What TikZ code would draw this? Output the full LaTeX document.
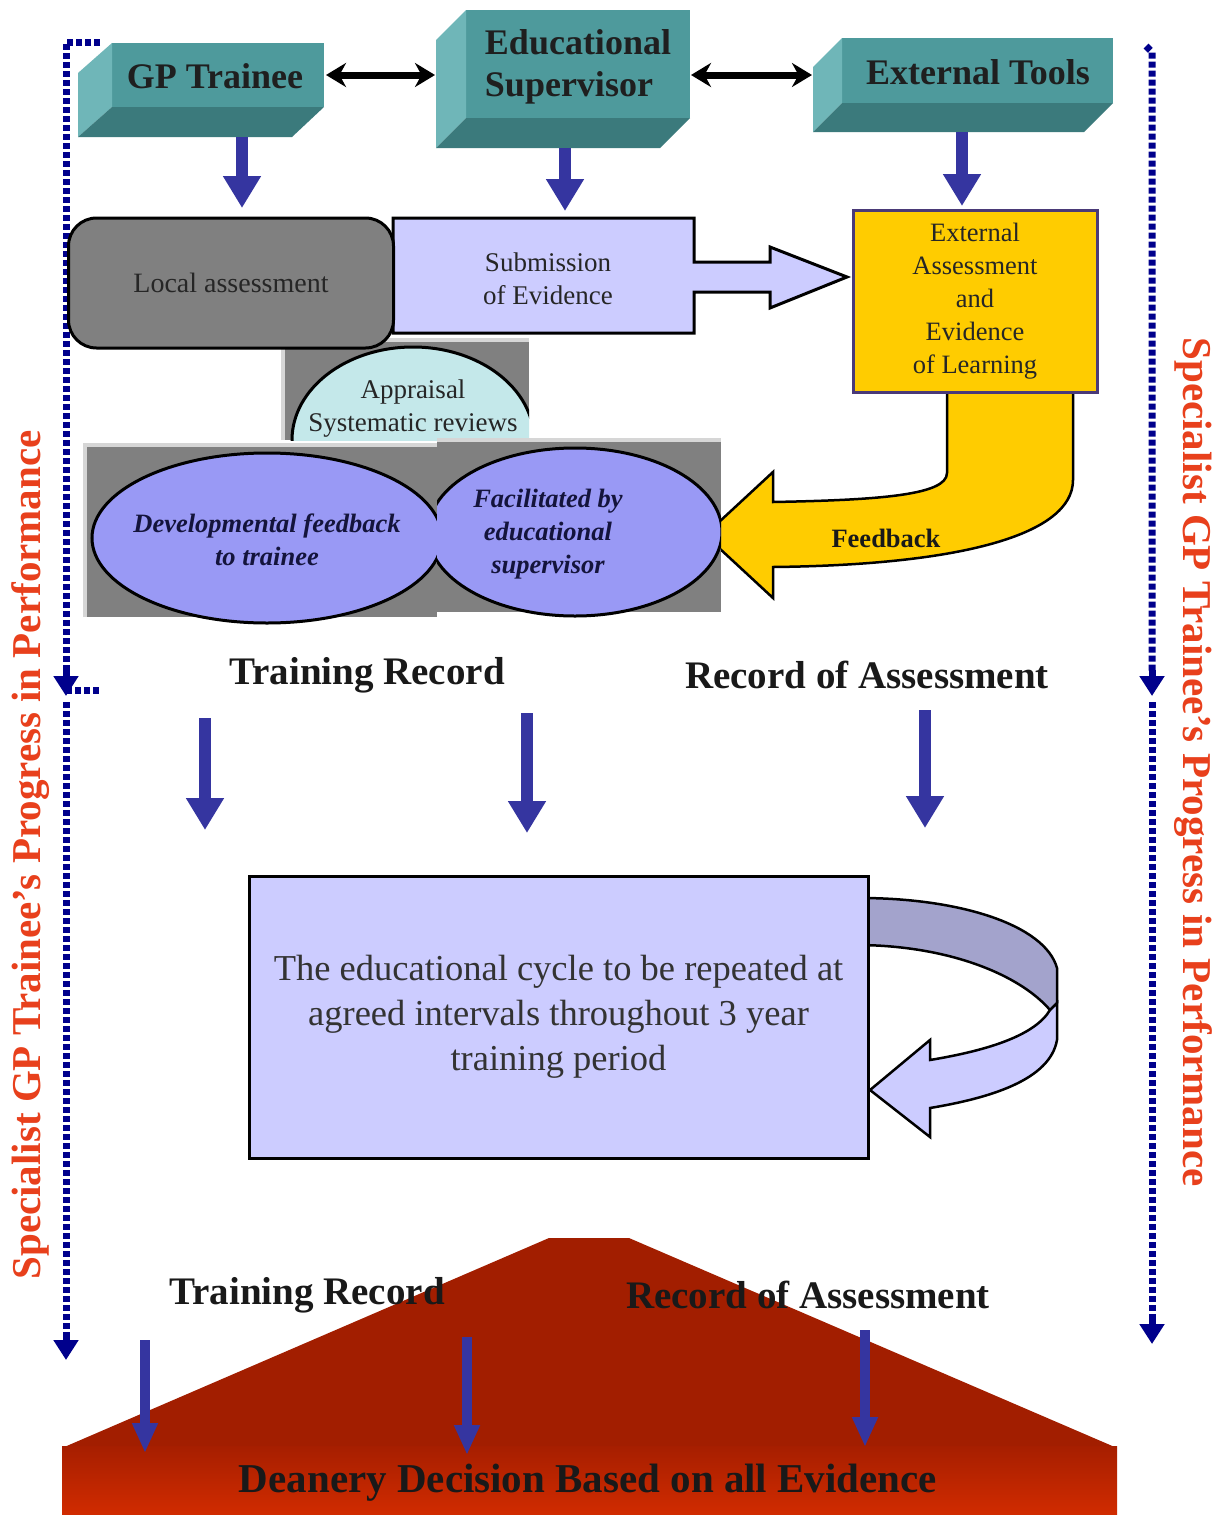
\documentclass[tikz,border=0pt]{standalone}
\usepackage{fontspec}
\setmainfont{Liberation Serif}
\usetikzlibrary{arrows.meta,shapes.geometric}
\definecolor{tealmain}{HTML}{4E9A9C}
\definecolor{teallight}{HTML}{6FB6B8}
\definecolor{tealdark}{HTML}{3B7A7C}
\definecolor{navyarrow}{HTML}{3535A0}
\definecolor{dotnavy}{HTML}{00008C}
\definecolor{lav}{HTML}{CCCCFF}
\definecolor{gold}{HTML}{FFCC00}
\definecolor{gborder}{HTML}{4A3A78}
\definecolor{peri}{HTML}{9999F5}
\definecolor{grayfill}{HTML}{808080}
\definecolor{grayframe}{HTML}{D6D6D6}
\definecolor{cyanlight}{HTML}{C4E8EA}
\definecolor{ringdark}{HTML}{A3A3CC}
\definecolor{redtop}{HTML}{A21E00}
\definecolor{redlow}{HTML}{CC2200}
\definecolor{sidered}{HTML}{E8401C}
\definecolor{navytext}{HTML}{14143C}
\begin{document}
\begin{tikzpicture}[x=1pt,y=-1pt,
  boxtxt/.style={font=\fontsize{36}{42}\selectfont\bfseries, text=black!88, align=center},
  dbl/.style={line width=7pt, black, {Stealth[length=20pt,width=24pt]}-{Stealth[length=20pt,width=24pt]}},
  barrow/.style={line width=12pt, navyarrow, -{Triangle[length=32pt,width=36pt]}},
  thinarrow/.style={line width=10pt, navyarrow, -{Triangle[length=30pt,width=24pt]}},
  dotline/.style={dotnavy, line width=7pt, dash pattern=on 6pt off 3pt},
  dottip/.style={-{Triangle[length=20pt,width=24pt]}},
  smalltxt/.style={font=\fontsize{27}{33}\selectfont, align=center, text=black!85},
  ovaltxt/.style={font=\fontsize{26.5}{33}\selectfont\bfseries\itshape, align=center, text=navytext},
  headtxt/.style={font=\fontsize{39}{44}\selectfont\bfseries, text=black!90},
  sidetxt/.style={font=\fontsize{41}{44}\selectfont\bfseries, text=sidered}
]
\useasboundingbox (0,0) rectangle (1221,1515);
\fill[white] (0,0) rectangle (1221,1515);

% ---------- dotted side lines ----------
\draw[dotline] (100,42) -- (66,42) -- (66,672);
\draw[dotline] (66,690) -- (100,690);
\coordinate (lt1) at (66,670); \coordinate (lt2) at (66,696);
\draw[dotnavy, dottip, line width=7pt] (lt1) -- (lt2);
\draw[dotline] (66,702) -- (66,1336);
\coordinate (lb1) at (66,1334); \coordinate (lb2) at (66,1360);
\draw[dotnavy, dottip, line width=7pt] (lb1) -- (lb2);
\draw[dotline] (1146,46) -- (1152,52) -- (1152,672);
\coordinate (rt1) at (1152,670); \coordinate (rt2) at (1152,696);
\draw[dotnavy, dottip, line width=7pt] (rt1) -- (rt2);
\draw[dotline] (1152,702) -- (1152,1320);
\coordinate (rb1) at (1152,1318); \coordinate (rb2) at (1152,1344);
\draw[dotnavy, dottip, line width=7pt] (rb1) -- (rb2);

\node[sidetxt, rotate=90] (sideL) at (31,855) {Specialist GP Trainee's Progress in Performance};
\node[sidetxt, rotate=-90] (sideR) at (1193,762) {Specialist GP Trainee's Progress in Performance};

% ---------- 3D boxes ----------
% GP Trainee
\fill[tealmain] (112,43) rectangle (324,107);
\fill[teallight] (112,43) -- (78,73) -- (78,137) -- (112,107) -- cycle;
\fill[tealdark] (112,107) -- (324,107) -- (292,137) -- (78,137) -- cycle;
\node[boxtxt] (gp) at (215,76) {GP Trainee};
% Educational Supervisor
\fill[tealmain] (466,10) rectangle (690,118);
\fill[teallight] (466,10) -- (436,40) -- (436,148) -- (466,118) -- cycle;
\fill[tealdark] (466,118) -- (690,118) -- (660,148) -- (436,148) -- cycle;
\node[boxtxt, align=left] (es) at (578,67) {Educational\\Supervisor};
% External Tools
\fill[tealmain] (842,38) rectangle (1113,103);
\fill[teallight] (842,38) -- (813,67) -- (813,132) -- (842,103) -- cycle;
\fill[tealdark] (842,103) -- (1113,103) -- (1084,132) -- (813,132) -- cycle;
\node[boxtxt] (et) at (978,72) {External Tools};

\coordinate (gpR) at (326,75); \coordinate (esL) at (435,75);
\coordinate (esR) at (691,75); \coordinate (etL) at (812,75);
\draw[dbl] (gpR) -- (esL);
\draw[dbl] (esR) -- (etL);

% down arrows from boxes
\coordinate (gpB) at (242,137); \coordinate (laT) at (242,208);
\coordinate (esB) at (565,148); \coordinate (sbT) at (565,211);
\coordinate (etB) at (962,132); \coordinate (eaT) at (962,206);
\draw[barrow] (gpB) -- (laT);
\draw[barrow] (esB) -- (sbT);
\draw[barrow] (etB) -- (eaT);

% ---------- appraisal ----------
\fill[grayfill] (283,340) rectangle (529,440);
\draw[grayframe, line width=4pt] (283,440) -- (283,340) -- (529,340);
\begin{scope}
  \clip (283,340) rectangle (529,440);
  \draw[fill=cyanlight, line width=3pt] (413,440) ellipse [x radius=121, y radius=93];
\end{scope}
\node[smalltxt] (ap) at (413,409) {Appraisal\\Systematic reviews};

% ---------- submission arrow & local assessment ----------
\draw[fill=lav, line width=3pt, line join=miter]
  (393,218) -- (694,218) -- (694,262) -- (770,262) -- (770,247) -- (847,277)
  -- (770,308) -- (770,292) -- (694,292) -- (694,333) -- (393,333) -- cycle;
\node[smalltxt] (sb) at (548,279) {Submission\\of Evidence};
\node[draw, fill=grayfill, line width=3pt, rounded corners=28pt,
  minimum width=325pt, minimum height=130pt, inner sep=0pt,
  font=\fontsize{28}{33}\selectfont, text=black!85] (la) at (231,283) {Local assessment};

% ---------- feedback arrow ----------
\draw[fill=gold, line width=2.5pt, line join=miter]
  (1073,388) -- (1073,480) .. controls (1073,535) and (960,565) .. (773,567)
  -- (773,598) -- (705,535) -- (773,472) -- (773,502)
  .. controls (880,500) and (947,495) .. (947,473) -- (947,388) -- cycle;
\node[font=\fontsize{26.5}{30}\selectfont\bfseries, text=black!90] (fb) at (886,538) {Feedback};

% external assessment box
\node[draw=gborder, fill=gold, line width=3pt, minimum width=244pt, minimum height=182pt,
  inner sep=0pt, font=\fontsize{26.5}{33}\selectfont, align=center, text=black!85]
  (ea) at (975,301) {External\\Assessment\\and\\Evidence\\of Learning};

% ---------- ovals ----------
\fill[grayfill] (85,445) rectangle (437,617);
\draw[grayframe, line width=4pt] (85,617) -- (85,445) -- (437,445);
\fill[grayfill] (437,440) rectangle (721,612);
\draw[grayframe, line width=4pt] (437,440) -- (721,440);
\draw[fill=peri, line width=3pt] (267,538) ellipse [x radius=175, y radius=85];
\begin{scope}
  \clip (437,440) rectangle (721,620);
  \draw[fill=peri, line width=3pt] (575,532) ellipse [x radius=147, y radius=84];
\end{scope}
\node[ovaltxt] (df) at (267,540) {Developmental feedback\\to trainee};
\node[ovaltxt] (fs) at (548,534) {Facilitated by\\educational\\supervisor};

% ---------- records ----------
\node[headtxt] (tr1) at (367,675) {Training Record};
\node[headtxt] (ra1) at (867,675) {Record of Assessment};

\coordinate (m1a) at (205,718); \coordinate (m1b) at (205,830);
\coordinate (m2a) at (527,713); \coordinate (m2b) at (527,833);
\coordinate (m3a) at (925,710); \coordinate (m3b) at (925,828);
\draw[barrow] (m1a) -- (m1b);
\draw[barrow] (m2a) -- (m2b);
\draw[barrow] (m3a) -- (m3b);

% ---------- cycle ring arrow ----------
\draw[fill=ringdark, line width=2.5pt, line join=round]
  (860,898) .. controls (960,898) and (1045,925) .. (1057,968)
  -- (1057,1003) -- (1050,1010)
  .. controls (1020,975) and (950,946) .. (860,945) -- cycle;
\draw[fill=lav, line width=2.5pt, line join=miter]
  (1050,1010) -- (1057,1003) -- (1057,1040)
  .. controls (1050,1080) and (990,1098) .. (930,1108)
  -- (930,1137) -- (870,1090) -- (930,1040) -- (930,1060)
  .. controls (990,1050) and (1035,1035) .. (1050,1010) -- cycle;

\node[draw, fill=lav, line width=3pt, minimum width=619pt, minimum height=282pt, inner sep=0pt,
  font=\fontsize{36.5}{45}\selectfont, align=center, text=black!80]
  (cy) at (558.5,1017) {The educational cycle to be repeated at\\agreed intervals throughout 3 year\\training period};

% ---------- deanery ----------
\fill[redtop] (549,1238) -- (629,1238) -- (1117,1448) -- (62,1448) -- cycle;
\shade[top color=redtop!90!redlow, bottom color=redlow!90!orange] (62,1446) rectangle (1117,1515);
\node[font=\fontsize{41}{44}\selectfont\bfseries, text=black!90] (dd) at (588,1483) {Deanery Decision Based on all Evidence};

\node[headtxt] (tr2) at (307,1295) {Training Record};
\node[headtxt] (ra2) at (808,1295) {Record of Assessment};

\coordinate (b1a) at (145,1340); \coordinate (b1b) at (145,1453);
\coordinate (b2a) at (467,1337); \coordinate (b2b) at (467,1455);
\coordinate (b3a) at (865,1330); \coordinate (b3b) at (865,1447);
\draw[thinarrow] (b1a) -- (b1b);
\draw[thinarrow] (b2a) -- (b2b);
\draw[thinarrow] (b3a) -- (b3b);
\end{tikzpicture}
\end{document}
